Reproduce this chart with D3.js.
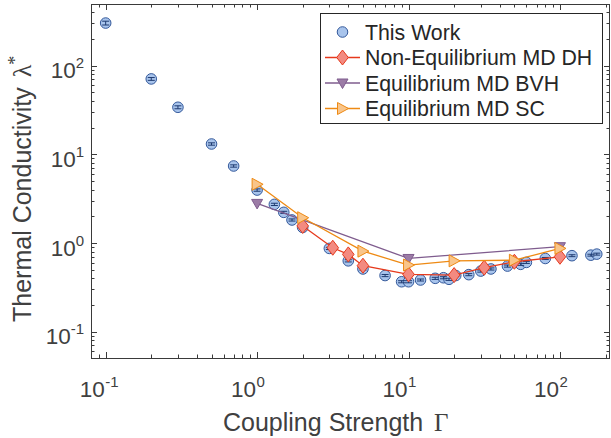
<!DOCTYPE html>
<html>
<head>
<meta charset="utf-8">
<script src="https://cdn.jsdelivr.net/npm/d3@7"></script>
<style>
  html, body { margin: 0; padding: 0; background: #fff; }
  svg { display: block; }
  text { font-family: "Liberation Sans", Arial, sans-serif; }
</style>
</head>
<body>
<svg id="chart" width="611" height="438"></svg>
<script>
// ---- data -------------------------------------------------------------
// This work: coupling strength, conductivity and its uncertainty
const thisWorkGamma = [0.1, 0.2, 0.3, 0.5, 0.7, 1, 1.3, 1.5, 1.7, 2, 3, 4, 5, 7, 9, 10, 12, 15, 17, 18.5, 20.5, 25, 30, 35, 45, 55, 60, 80, 120, 160, 175];
const thisWorkLambda = [303, 71, 34, 13.1, 7.4, 3.96, 2.73, 2.22, 1.82, 1.50, 0.87, 0.63, 0.51, 0.43, 0.366, 0.366, 0.383, 0.40, 0.406, 0.39, 0.43, 0.44, 0.483, 0.51, 0.55, 0.575, 0.605, 0.67, 0.72, 0.73, 0.75];
const thisWorkErr = [15, 2.6, 1.3, 0.4, 0.22, 0.12, 0.08, 0.06, 0.05, 0.04, 0.025, 0.018, 0.015, 0.012, 0.01, 0.01, 0.01, 0.011, 0.011, 0.011, 0.012, 0.012, 0.013, 0.014, 0.015, 0.015, 0.016, 0.017, 0.018, 0.018, 0.019];

// Non-equilibrium MD (DH)
const neqGamma = [2, 3.16, 4, 5, 10, 20, 31.6, 50, 100];
const neqLambda = [1.56, 0.885, 0.745, 0.555, 0.443, 0.435, 0.527, 0.615, 0.70];

// Equilibrium MD (BVH)
const bvhGamma = [1, 10, 100];
const bvhLambda = [2.8, 0.67, 0.91];

// Equilibrium MD (SC)
const scGamma = [1, 2, 5, 10, 20, 50, 100];
const scLambda = [4.6, 1.93, 0.81, 0.565, 0.63, 0.64, 0.87];

const xDecades = [0.1, 1, 10, 100];
const xDecadeExp = ["-1", "0", "1", "2"];
const yDecades = [0.1, 1, 10, 100];
const yDecadeExp = ["-1", "0", "1", "2"];

const legendLabels = ["This Work", "Non-Equilibrium MD DH", "Equilibrium MD BVH", "Equilibrium MD SC"];

// ---- layout -----------------------------------------------------------
const plot = { left: 91, right: 610, top: 4, bottom: 358 };
const axisColor = "#3a3a3a";
const textColor = "#404040";

const svg = d3.select("#chart");

const x = d3.scaleLog().domain([0.08, 214]).range([plot.left, plot.right]);
const y = d3.scaleLog().domain([0.0505, 497]).range([plot.bottom, plot.top]);

// ---- ticks (inside, on all four sides) ---------------------------------
function logTicks(scale) {
  const [a, b] = scale.domain();
  const out = [];
  for (let e = Math.floor(Math.log10(a)); e <= Math.ceil(Math.log10(b)); e++) {
    for (let m = 1; m <= 9; m++) {
      const v = m * Math.pow(10, e);
      if (v >= a && v <= b) out.push({ v, major: m === 1 });
    }
  }
  return out;
}

const tickG = svg.append("g").attr("stroke", axisColor).attr("stroke-width", 1);
logTicks(x).forEach(t => {
  const px = Math.round(x(t.v)) + 0.5;
  const len = t.major ? 6 : 3.5;
  tickG.append("line").attr("x1", px).attr("x2", px).attr("y1", plot.bottom).attr("y2", plot.bottom - len);
  tickG.append("line").attr("x1", px).attr("x2", px).attr("y1", plot.top).attr("y2", plot.top + len);
});
logTicks(y).forEach(t => {
  const py = Math.round(y(t.v)) + 0.5;
  const len = t.major ? 6 : 3.5;
  tickG.append("line").attr("x1", plot.left).attr("x2", plot.left + len).attr("y1", py).attr("y2", py);
  tickG.append("line").attr("x1", plot.right).attr("x2", plot.right - len).attr("y1", py).attr("y2", py);
});

// box
svg.append("rect")
  .attr("x", plot.left + 0.5).attr("y", plot.top + 0.5)
  .attr("width", plot.right - plot.left - 1).attr("height", plot.bottom - plot.top)
  .attr("fill", "none").attr("stroke", axisColor).attr("stroke-width", 1);

// tick labels: 10 with superscript exponent
const tickFont = 22.5, supFont = 15;
xDecades.forEach((v, i) => {
  svg.append("text")
    .attr("x", x(v) - 1).attr("y", 397)
    .attr("text-anchor", "end")
    .attr("fill", textColor)
    .attr("font-size", tickFont)
    .text("10");
  svg.append("text")
    .attr("x", x(v) - 0.5).attr("y", 387)
    .attr("fill", textColor)
    .attr("font-size", supFont)
    .text(xDecadeExp[i]);
});
yDecades.forEach((v, i) => {
  const t = svg.append("text")
    .attr("x", 84).attr("y", y(v) + 12.5)
    .attr("text-anchor", "end")
    .attr("fill", textColor)
    .attr("font-size", tickFont);
  t.append("tspan").text("10");
  t.append("tspan").attr("dy", -10).attr("font-size", supFont).text(yDecadeExp[i]);
});

// axis titles
const xTitle = svg.append("text")
  .attr("x", 223).attr("y", 431)
  .attr("fill", textColor).attr("font-size", 25);
xTitle.append("tspan").text("Coupling Strength ");
xTitle.append("tspan").attr("dx", 4).attr("font-family", "Liberation Serif, serif").attr("font-size", 25).text("\u0393");

const yTitle = svg.append("text")
  .attr("transform", `translate(30.5, 322) rotate(-90)`)
  .attr("fill", textColor).attr("font-size", 25);
yTitle.append("tspan").text("Thermal Conductivity ");
yTitle.append("tspan").attr("dx", 3).attr("font-family", "Liberation Serif, serif").attr("font-size", 26).text("\u03bb");
yTitle.append("tspan").attr("dy", -10).attr("font-size", 18).attr("font-family", "Liberation Serif, serif").text("*");

// ---- marks ------------------------------------------------------------
const plotArea = svg.append("g");

const styles = {
  work: { fill: "#a8c4ec", stroke: "#34599b", bar: "#1e3a70" },
  neq:  { line: "#e6391c", fill: "#f38a80", stroke: "#e6391c" },
  bvh:  { line: "#7f5c8e", fill: "#9c7ca6", stroke: "#7f5c8e" },
  sc:   { line: "#ee8a14", fill: "#f9c58a", stroke: "#ee8a14" }
};

const markerPath = {
  circle: d3.symbol().type(d3.symbolCircle).size(Math.PI * 28),
  diamond: () => "M0,-7.5L5.8,0L0,7.5L-5.8,0Z",
  down: () => "M-5.5,-4L5.5,-4L0,5.5Z",
  right: () => "M-5,-6L6,0L-5,6Z"
};

function drawSeries(gammas, lambdas, st, marker) {
  const pts = gammas.map((g, i) => [x(g), y(lambdas[i])]);
  plotArea.append("path")
    .attr("d", d3.line()(pts))
    .attr("fill", "none").attr("stroke", st.line).attr("stroke-width", 1.3);
  plotArea.selectAll(null).data(pts).enter().append("path")
    .attr("transform", d => `translate(${d[0]},${d[1]})`)
    .attr("d", markerPath[marker])
    .attr("fill", st.fill).attr("stroke", st.stroke).attr("stroke-width", 1);
}

// this work: circles with error bars
const work = thisWorkGamma.map((g, i) => ({ g, v: thisWorkLambda[i], e: thisWorkErr[i] }));
const workG = plotArea.append("g");
workG.selectAll("circle").data(work).enter().append("circle")
  .attr("cx", d => x(d.g)).attr("cy", d => y(d.v)).attr("r", 5.3)
  .attr("fill", styles.work.fill).attr("stroke", styles.work.stroke).attr("stroke-width", 1);
const bars = workG.selectAll("g.bar").data(work).enter().append("g")
  .attr("stroke", styles.work.bar).attr("stroke-width", 1);
bars.append("line")
  .attr("x1", d => x(d.g)).attr("x2", d => x(d.g))
  .attr("y1", d => y(d.v - d.e)).attr("y2", d => y(d.v + d.e));
bars.append("line")
  .attr("x1", d => x(d.g) - 3.5).attr("x2", d => x(d.g) + 3.5)
  .attr("y1", d => y(d.v - d.e)).attr("y2", d => y(d.v - d.e));
bars.append("line")
  .attr("x1", d => x(d.g) - 3.5).attr("x2", d => x(d.g) + 3.5)
  .attr("y1", d => y(d.v + d.e)).attr("y2", d => y(d.v + d.e));

drawSeries(neqGamma, neqLambda, styles.neq, "diamond");
drawSeries(bvhGamma, bvhLambda, styles.bvh, "down");
drawSeries(scGamma, scLambda, styles.sc, "right");

// ---- legend -----------------------------------------------------------
const leg = svg.append("g");
leg.append("rect")
  .attr("x", 320.5).attr("y", 13.5).attr("width", 282).attr("height", 110)
  .attr("fill", "#fff").attr("stroke", "#262626").attr("stroke-width", 1);

const legRows = [
  { st: styles.work, marker: "circle", line: false },
  { st: styles.neq, marker: "diamond", line: true },
  { st: styles.bvh, marker: "down", line: true },
  { st: styles.sc, marker: "right", line: true }
];
legRows.forEach((r, i) => {
  const cy = 32 + i * 25.5;
  if (r.line) {
    leg.append("line").attr("x1", 325).attr("x2", 360).attr("y1", cy).attr("y2", cy)
      .attr("stroke", r.st.line).attr("stroke-width", 1.3);
  }
  leg.append("path")
    .attr("transform", `translate(342.5,${cy})`)
    .attr("d", markerPath[r.marker])
    .attr("fill", r.st.fill).attr("stroke", r.st.stroke).attr("stroke-width", 1);
  leg.append("text")
    .attr("x", 365).attr("y", cy + 7.5)
    .attr("fill", "#262626").attr("font-size", 21.3)
    .text(legendLabels[i]);
});
</script>
</body>
</html>
